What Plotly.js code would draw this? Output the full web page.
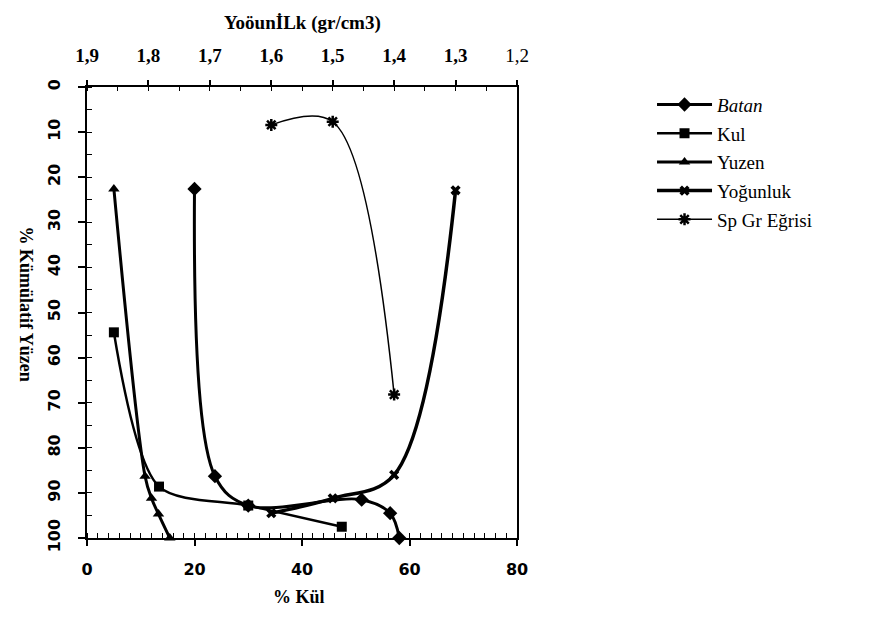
<!DOCTYPE html>
<html>
<head>
<meta charset="utf-8">
<script src="https://cdn.plot.ly/plotly-3.0.1.min.js"></script>
<style>
  html, body { margin: 0; padding: 0; background: #ffffff; }
  #chart { width: 871px; height: 622px; }
</style>
</head>
<body>
<div id="chart"></div>
<script>
// ---- data ----
const batanAsh = [20, 23.8, 30, 51.1, 56.4, 58.1];
const batanYield = [22.6, 86.3, 92.8, 91.5, 94.5, 100];

const kulAsh = [5, 13.4, 30, 47.4];
const kulYield = [54.4, 88.6, 92.8, 97.5];

const yuzenAsh = [5, 10.8, 12, 13.3, 15.4];
const yuzenYield = [22.6, 86.3, 91.2, 94.7, 100];

const yogDensity = [1.3, 1.4, 1.5, 1.6];
const yogYield = [22.9, 86.0, 91.2, 94.5];

const spDensity = [1.6, 1.5, 1.4];
const spYield = [8.4, 7.7, 68.2];

const densTickVals = [1.9, 1.8, 1.7, 1.6, 1.5, 1.4, 1.3, 1.2];
const densTickText = ['<b>1,9</b>', '<b>1,8</b>', '<b>1,7</b>', '<b>1,6</b>', '<b>1,5</b>', '<b>1,4</b>', '<b>1,3</b>', '1,2'];

const names = ['<i>Batan</i>', 'Kul', 'Yuzen', 'Yoğunluk', 'Sp Gr Eğrisi'];

// ---- traces ----
const black = '#000000';
const SERIF = 'Liberation Serif';
const traces = [
  {
    x: batanAsh, y: batanYield, name: names[0], legendgroup: 'g1',
    mode: 'lines+markers', cliponaxis: false,
    line: {color: black, width: 3, shape: 'spline', smoothing: 1},
    marker: {symbol: 'diamond', size: 11, color: black}
  },
  {
    x: kulAsh, y: kulYield, name: names[1], legendgroup: 'g2',
    mode: 'lines+markers', cliponaxis: false,
    line: {color: black, width: 2.5, shape: 'spline', smoothing: 0.8},
    marker: {symbol: 'square', size: 10, color: black}
  },
  {
    x: yuzenAsh, y: yuzenYield, name: names[2], legendgroup: 'g3',
    mode: 'lines+markers', cliponaxis: false,
    line: {color: black, width: 3, shape: 'spline', smoothing: 1},
    marker: {symbol: 'triangle-up', size: 10, color: black}
  },
  {
    x: yogDensity, y: yogYield, name: names[3], legendgroup: 'g4', xaxis: 'x2',
    mode: 'lines+markers', cliponaxis: false,
    line: {color: black, width: 3.5, shape: 'spline', smoothing: 1},
    marker: {symbol: 'x', size: 9, color: black}
  },
  {
    x: spDensity, y: spYield, name: names[4], legendgroup: 'g5', xaxis: 'x2',
    mode: 'lines+markers', cliponaxis: false,
    line: {color: black, width: 1.5, shape: 'spline', smoothing: 1},
    marker: {symbol: 'asterisk-open', size: 10, color: black, line: {color: black, width: 2.5}}
  }
];

const tickFont = {family: 'DejaVu Sans', size: 16, color: black, weight: 'bold'};

const layout = {
  width: 871, height: 622,
  margin: {l: 87, r: 354, t: 87, b: 84, pad: 0},
  paper_bgcolor: '#ffffff', plot_bgcolor: '#ffffff',
  separators: ',.',
  showlegend: true,
  font: {family: SERIF, color: black},
  xaxis: {
    range: [0, 80], tickvals: [0, 20, 40, 60, 80],
    showgrid: false, zeroline: false,
    showline: true, linecolor: black, linewidth: 2,
    ticks: 'outside', ticklen: 6, tickwidth: 2, tickcolor: black,
    minor: {dtick: 2, ticks: 'inside', ticklen: 5, tickwidth: 1, tickcolor: black, showgrid: false},
    tickfont: tickFont, ticklabelstandoff: 10
  },
  xaxis2: {
    overlaying: 'x', side: 'top', anchor: 'y',
    range: [1.9, 1.2], tickvals: densTickVals, ticktext: densTickText,
    showgrid: false, zeroline: false,
    showline: true, linecolor: black, linewidth: 2,
    ticks: 'outside', ticklen: 5, tickwidth: 2, tickcolor: black,
    minor: {dtick: 0.05, ticks: 'inside', ticklen: 4, tickwidth: 1, tickcolor: black, showgrid: false},
    tickfont: {family: SERIF, size: 19, color: black},
    ticklabelstandoff: 10
  },
  yaxis: {
    range: [100, 0], tickvals: [0, 10, 20, 30, 40, 50, 60, 70, 80, 90, 100],
    showgrid: false, zeroline: false,
    showline: true, linecolor: black, linewidth: 2, mirror: true,
    ticks: 'outside', ticklen: 7, tickwidth: 2, tickcolor: black,
    minor: {dtick: 5, ticks: 'inside', ticklen: 5, tickwidth: 1, tickcolor: black, showgrid: false},
    tickangle: -90,
    tickfont: tickFont, ticklabelstandoff: 12
  },
  legend: {
    x: 1.314, y: 1.003, xanchor: 'left', yanchor: 'top',
    font: {family: SERIF, size: 19, color: black},
    itemwidth: 55, tracegroupgap: 1, traceorder: 'grouped',
    bgcolor: 'rgba(0,0,0,0)', borderwidth: 0
  },
  annotations: [
    {
      text: 'YoöunİLk (gr/cm3)', xref: 'paper', yref: 'paper', x: 0.5, y: 1.142,
      xanchor: 'center', yanchor: 'middle', showarrow: false,
      font: {family: SERIF, size: 19, color: black, weight: 'bold'}
    },
    {
      text: '% Kül', xref: 'paper', yref: 'paper', x: 0.493, y: -0.131,
      xanchor: 'center', yanchor: 'middle', showarrow: false,
      font: {family: SERIF, size: 18, color: black, weight: 'bold'}
    },
    {
      text: '% Kümülatif Yüzen', xref: 'paper', yref: 'paper', x: -0.144, y: 0.52,
      xanchor: 'center', yanchor: 'middle', showarrow: false, textangle: 90,
      font: {family: SERIF, size: 18, color: black, weight: 'bold'}
    }
  ]
};

Plotly.newPlot('chart', traces, layout, {displayModeBar: false, staticPlot: true});
</script>
</body>
</html>
